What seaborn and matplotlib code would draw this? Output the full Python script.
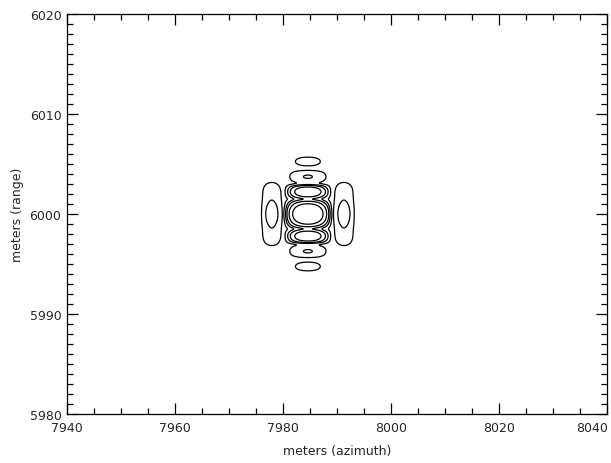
import numpy as np
import matplotlib
matplotlib.use("Agg")
import matplotlib.pyplot as plt
import seaborn as sns
from matplotlib.ticker import MultipleLocator
from matplotlib.transforms import ScaledTranslation

# point target peak (azimuth, range), meters
peak = [7984.6, 6000.0]
# null spacing of the response (azimuth, range), meters
null_az = 4.45
null_rg = 1.5
# lobe peak levels in dB (index 0 = main lobe, then 1st, 2nd, 3rd range sidelobe)
rg_lobe_db = [0.0, -6.0, -19.7, -25.6]
# first azimuth sidelobe: peak level (dB) and range spread (m)
az_side_db = [0.0, -16.8]
az_side_rg_sigma = 1.45
# diagonal lobes beside the azimuth sidelobes: level (dB), range offset and spread (m)
diag_db = [0.0, -28.0]
diag_rg_offset = 2.4
diag_rg_sigma = 0.6
# shoulder between main lobe and first range sidelobes: level (dB), spread (m)
shoulder_db = -13.0
shoulder_sigma = 1.35
# contour levels, dB
levels_db = [-30, -20, -15, -10, -5]

xticks = [7940, 7960, 7980, 8000, 8020, 8040]
yticks = [5980, 5990, 6000, 6010, 6020]


def profile(u, lobes_db):
    """main lobe sinc, sidelobes as half-sine arches with given peak levels"""
    au = np.abs(u)
    k = np.floor(au).astype(int)
    out = np.zeros_like(au)
    out[k == 0] = np.sinc(au[k == 0])
    for i in range(1, len(lobes_db)):
        m = k == i
        out[m] = np.abs(np.sin(np.pi * au[m])) * 10 ** (lobes_db[i] / 20.0)
    return out


def blur(z, n, axis):
    t = np.arange(-3 * n, 3 * n + 1)
    w = np.exp(-0.5 * (t / n) ** 2)
    w /= w.sum()
    return np.apply_along_axis(lambda r: np.convolve(r, w, mode="same"), axis, z)


sns.set_theme(style="white")
plt.rcParams["font.family"] = ["DejaVu Sans"]
plt.rcParams["contour.negative_linestyle"] = "solid"

az = np.arange(7955.0, 8015.0, 0.05)
rg = np.arange(5990.0, 6010.0, 0.025)
AZ, RG = np.meshgrid(az, rg)
dy = RG - peak[1]
u = (AZ - peak[0]) / null_az
v = dy / null_rg
side = np.abs(u) >= 1

main_az = profile(u, [0.0])
amp = main_az * profile(v, rg_lobe_db)
amp += main_az * 10 ** (shoulder_db / 20) * np.exp(-0.5 * (dy / shoulder_sigma) ** 2)
amp += side * profile(u, az_side_db) * np.exp(-0.5 * (dy / az_side_rg_sigma) ** 2)
amp += side * profile(u, diag_db) * (np.exp(-0.5 * ((dy - diag_rg_offset) / diag_rg_sigma) ** 2)
                                     + np.exp(-0.5 * ((dy + diag_rg_offset) / diag_rg_sigma) ** 2))
amp = blur(blur(amp, 4, 1), 4, 0)
db = 20 * np.log10(np.maximum(amp, 1e-6))

fig = plt.figure(figsize=(6.11, 4.64), dpi=100)
ax = fig.add_axes([0.1097, 0.1056, 0.8838, 0.8621])
ax.contour(AZ, RG, db, levels=levels_db, colors="black", linewidths=0.9, linestyles="solid")

ax.set_xlim(7940, 8040)
ax.set_ylim(5980, 6020)
ax.set_xticks(xticks)
ax.set_xticklabels([str(t) for t in xticks])
ax.set_yticks(yticks)
ax.set_yticklabels([str(t) for t in yticks])
ax.xaxis.set_minor_locator(MultipleLocator(5))
ax.yaxis.set_minor_locator(MultipleLocator(1))
ax.tick_params(which="both", direction="in", top=True, right=True, bottom=True, left=True,
               color="black", labelsize=9)
ax.tick_params(axis="x", pad=5)
ax.tick_params(axis="y", pad=4)
ax.tick_params(which="major", length=8, width=0.9)
ax.tick_params(which="minor", length=4, width=0.9)
last = ax.get_xticklabels()[-1]
last.set_horizontalalignment("right")
last.set_transform(last.get_transform() + ScaledTranslation(1 / 72, 0, fig.dpi_scale_trans))
for s in ax.spines.values():
    s.set_color("black")
    s.set_linewidth(0.9)
ax.set_xlabel("meters (azimuth)", fontsize=9, labelpad=7)
ax.set_ylabel("meters (range)", fontsize=9, labelpad=4)

fig.savefig("out.png", dpi=100)
